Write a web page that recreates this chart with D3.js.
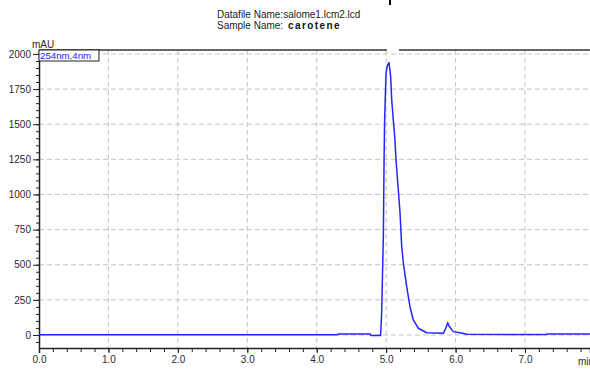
<!DOCTYPE html>
<meta charset="utf-8">
<style>
body { margin: 0; background: #fff; }
svg { display: block; font-family: "Liberation Sans", Arial, sans-serif; }
.tick text { font-size: 10px; fill: #2a2a2a; }
.grid line { stroke: #c4c4c4; stroke-dasharray: 5,3; }
.trace { fill: none; stroke: #2424ff; stroke-width: 1.5px; stroke-linejoin: round; }
</style>
<svg width="590" height="369"></svg>
<script src="https://cdn.jsdelivr.net/npm/d3@7"></script>
<script>

// chromatogram, 254nm,4nm channel (min, mAU)
var times  = [0, 4.30, 4.31, 4.77, 4.78, 4.92, 4.935, 4.96, 4.97, 4.978, 4.998, 5.02, 5.041, 5.065, 5.08, 5.103, 5.127, 5.142, 5.175, 5.2, 5.224, 5.248, 5.296, 5.343, 5.391, 5.463, 5.584, 5.823, 5.86, 5.886, 5.91, 5.967, 6.06, 6.16, 7.30, 7.32, 7.94];
var values = [2, 2, 8, 8, -4, -4, 154, 712, 1245, 1530, 1865, 1922, 1938, 1838, 1672, 1530, 1388, 1245, 1032, 868, 628, 512, 344, 201, 107, 48, 16, 12, 50, 88, 60, 24, 16, 5, 3, 8, 8];

var xTicks = [0, 1, 2, 3, 4, 5, 6, 7];
var yTicks = [0, 250, 500, 750, 1000, 1250, 1500, 1750, 2000];

var svg = d3.select("svg");
var pLeft = 39, pRight = 590, pTop = 50, pBottom = 348;

var x = d3.scaleLinear().domain([0, 7.936]).range([pLeft, pRight]);
var y = d3.scaleLinear().domain([-92.5, 2028]).range([pBottom, pTop]);

// header
svg.append("text").attr("x", 217).attr("y", 17.5).attr("font-size", 10).attr("fill", "#222")
    .text("Datafile Name:salome1.lcm2.lcd");
svg.append("text").attr("x", 217).attr("y", 28.5).attr("font-size", 10).attr("fill", "#222")
    .text("Sample Name:");
svg.append("text").attr("x", 288).attr("y", 28.5).attr("font-size", 10).attr("font-weight", "bold")
    .attr("letter-spacing", "1.4px").attr("fill", "#111").text("carotene");
svg.append("line").attr("x1", 390).attr("x2", 390).attr("y1", 0).attr("y2", 5)
    .attr("stroke", "#000").attr("stroke-width", 2);

// grid
svg.append("g").attr("class", "grid")
    .selectAll("line").data(xTicks.slice(1)).enter().append("line")
    .attr("x1", d => x(d)).attr("x2", d => x(d))
    .attr("y1", pTop).attr("y2", pBottom);
svg.append("g").attr("class", "grid")
    .selectAll("line").data(yTicks).enter().append("line")
    .attr("x1", pLeft).attr("x2", pRight)
    .attr("y1", d => y(d)).attr("y2", d => y(d));

// top frame, broken where the peak label was
svg.append("line").attr("x1", pLeft).attr("x2", x(5.01)).attr("y1", pTop).attr("y2", pTop)
    .attr("stroke", "#333").attr("stroke-width", 1.5);
svg.append("line").attr("x1", x(5.185)).attr("x2", pRight).attr("y1", pTop).attr("y2", pTop)
    .attr("stroke", "#333").attr("stroke-width", 1.5);

// axes
var xMinor = d3.range(0, 7.95, 0.2);
svg.append("g").attr("transform", "translate(0," + pBottom + ")")
    .call(d3.axisBottom(x).tickValues(xMinor).tickSize(4).tickFormat(""))
    .call(g => g.select(".domain").remove())
    .call(g => g.selectAll("line").attr("stroke", "#222"));
var xAxis = svg.append("g").attr("transform", "translate(0," + pBottom + ")")
    .call(d3.axisBottom(x).tickValues(xTicks).tickSize(5).tickPadding(3).tickFormat(d3.format(".1f")));
xAxis.select(".domain").attr("stroke", "#222").attr("stroke-width", 1.5);
xAxis.selectAll("line").attr("stroke", "#222");
svg.append("text").attr("x", 578).attr("y", 364.5).attr("font-size", 10).attr("fill", "#2a2a2a").text("min");

var yMinor = d3.range(-50, 2001, 50);
svg.append("g").attr("transform", "translate(" + pLeft + ",0)")
    .call(d3.axisLeft(y).tickValues(yMinor).tickSize(3).tickFormat(""))
    .call(g => g.select(".domain").remove())
    .call(g => g.selectAll("line").attr("stroke", "#222"));
var yAxis = svg.append("g").attr("transform", "translate(" + pLeft + ",0)")
    .call(d3.axisLeft(y).tickValues(yTicks).tickSize(6).tickPadding(2).tickSizeOuter(0).tickFormat(d3.format("d")));
yAxis.select(".domain").attr("stroke", "#222").attr("stroke-width", 1.5);
yAxis.selectAll("line").attr("stroke", "#222");
svg.append("text").attr("x", 32).attr("y", 47.5).attr("font-size", 10).attr("fill", "#2a2a2a").text("mAU");

// trace
var pts = times.map((t, i) => [t, values[i]]);
svg.append("path").datum(pts).attr("class", "trace")
    .attr("d", d3.line().x(d => x(d[0])).y(d => y(d[1])));

// legend box
svg.append("rect").attr("x", pLeft).attr("y", pTop).attr("width", 60).attr("height", 11)
    .attr("fill", "#fff").attr("stroke", "#222").attr("stroke-width", 1);
svg.append("text").attr("x", pLeft + 1).attr("y", pTop + 9).attr("font-size", 9.7)
    .attr("fill", "#1a1aff").text("254nm,4nm");

</script>
